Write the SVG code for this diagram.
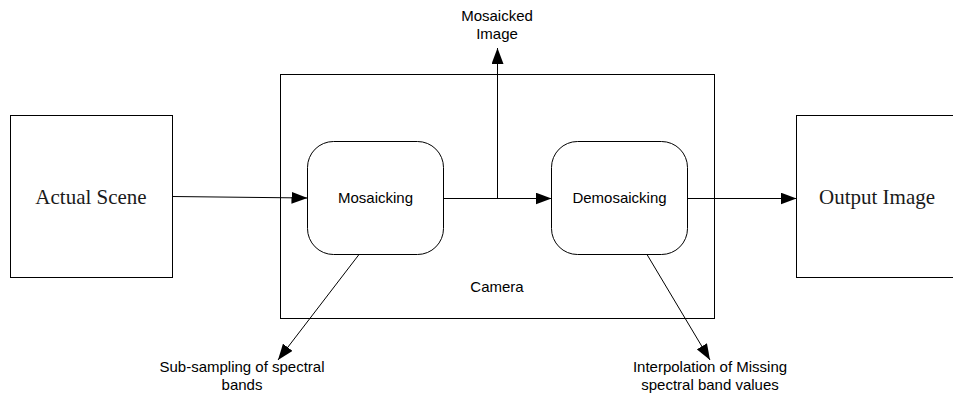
<svg xmlns="http://www.w3.org/2000/svg" width="953" height="397" viewBox="0 0 953 397">
<style>
.box{fill:#fff;stroke:#000;stroke-width:1}
.ln{fill:none;stroke:#000;stroke-width:1}
.serif{font-family:"Liberation Serif",serif;font-size:21px;fill:#1a1a1a;text-anchor:middle}
.sans{font-family:"Liberation Sans",Arial,sans-serif;font-size:15px;fill:#000;text-anchor:middle}
</style>
<defs>
<marker id="ah" viewBox="0 0 16 12" refX="16" refY="6" markerWidth="16" markerHeight="12" markerUnits="userSpaceOnUse" orient="auto">
<path d="M0,0 L16,6 L0,12 Z" fill="#000"/>
</marker>
</defs>
<g id="camera"><rect class="box" x="280.5" y="74.5" width="434" height="244"/><text class="sans" x="497" y="292">Camera</text></g>
<g id="actual-scene"><rect class="box" x="10.5" y="115.5" width="162" height="162"/><text class="serif" x="91" y="204">Actual Scene</text></g>
<g id="output-image"><rect class="box" x="796.5" y="115.5" width="162" height="162"/><text class="serif" x="877" y="204">Output Image</text></g>
<g id="mosaicking"><rect class="box" x="307.5" y="141.5" width="136" height="113" rx="26" ry="26"/><text class="sans" x="375.5" y="203">Mosaicking</text></g>
<g id="demosaicking"><rect class="box" x="551.5" y="141.5" width="136" height="113" rx="26" ry="26"/><text class="sans" x="619.5" y="203">Demosaicking</text></g>
<g id="labels">
<text class="sans" x="497" y="21">Mosaicked</text><text class="sans" x="497" y="39">Image</text>
<text class="sans" x="242" y="372">Sub-sampling of spectral</text><text class="sans" x="242" y="390">bands</text>
<text class="sans" x="710" y="372">Interpolation of Missing</text><text class="sans" x="710" y="390">spectral band values</text>
</g>
<g id="connectors">
<path class="ln" d="M172.5,196.5 L307.5,198" marker-end="url(#ah)"/>
<path class="ln" d="M443.5,198.5 L551.5,198.5" marker-end="url(#ah)"/>
<path class="ln" d="M497.5,198.5 L497.5,48" marker-end="url(#ah)"/>
<path class="ln" d="M687.5,198.5 L796.5,198.5" marker-end="url(#ah)"/>
<path class="ln" d="M359,254.5 L278,360" marker-end="url(#ah)"/>
<path class="ln" d="M647,254.5 L710,360" marker-end="url(#ah)"/>
</g>
</svg>
